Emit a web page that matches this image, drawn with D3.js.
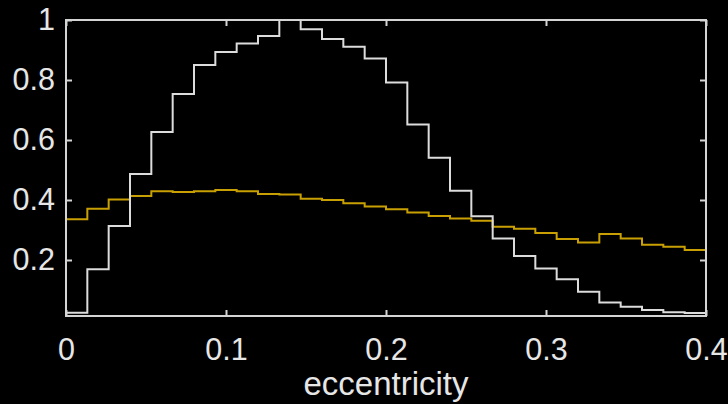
<!DOCTYPE html>
<html>
<head>
<meta charset="utf-8">
<script src="https://cdn.jsdelivr.net/npm/d3@7"></script>
<style>
  html, body { margin: 0; padding: 0; background: #000; }
  svg { display: block; }
</style>
</head>
<body>
<svg id="chart" width="728" height="404"></svg>
<script>
// Bin edges (eccentricity), 30 bins from 0 to 0.4
const binEdges = [0, 0.01333, 0.02667, 0.04, 0.05333, 0.06667, 0.08, 0.09333, 0.10667, 0.12,
  0.13333, 0.14667, 0.16, 0.17333, 0.18667, 0.2, 0.21333, 0.22667, 0.24, 0.25333,
  0.26667, 0.28, 0.29333, 0.30667, 0.32, 0.33333, 0.34667, 0.36, 0.37333, 0.38667, 0.4];

// White histogram (normalised)
const whiteValues = [0.024, 0.169, 0.313, 0.487, 0.627, 0.753, 0.850, 0.893, 0.922, 0.947,
  1.000, 0.969, 0.937, 0.911, 0.872, 0.792, 0.652, 0.541, 0.431, 0.346,
  0.272, 0.213, 0.172, 0.136, 0.094, 0.058, 0.044, 0.033, 0.026, 0.023];
const whiteEnd = 0.023;

// Yellow histogram (normalised)
const yellowValues = [0.336, 0.371, 0.402, 0.413, 0.429, 0.427, 0.429, 0.433, 0.429, 0.420,
  0.418, 0.404, 0.400, 0.389, 0.378, 0.369, 0.358, 0.347, 0.338, 0.331,
  0.311, 0.304, 0.290, 0.270, 0.258, 0.287, 0.272, 0.251, 0.244, 0.233];
const yellowEnd = 0.215;

const xTicks = [0, 0.1, 0.2, 0.3, 0.4];
const xTickLabels = ["0", "0.1", "0.2", "0.3", "0.4"];
const yTicks = [0.2, 0.4, 0.6, 0.8, 1];
const yTickLabels = ["0.2", "0.4", "0.6", "0.8", "1"];
const xLabel = "eccentricity";
const xDomain = [0, 0.4];
const yDomain = [0.0133, 1];

const svg = d3.select("#chart");
const mLeft = 66, mRight = 706, mTop = 20, mBottom = 316;
const x = d3.scaleLinear().domain(xDomain).range([mLeft, mRight]);
const y = d3.scaleLinear().domain(yDomain).range([mBottom, mTop]);

const axisColor = "#d4d4d4";
const textColor = "#e6e6e6";
const font = "'Liberation Sans', Arial, Helvetica, sans-serif";

svg.append("rect").attr("width", 728).attr("height", 404).attr("fill", "#000");

function series(vals, endVal) {
  const pts = vals.map((v, i) => [binEdges[i], v]);
  pts.push([binEdges[binEdges.length - 1], endVal]);
  return pts;
}
const stair = d3.line().x(d => x(d[0])).y(d => y(d[1])).curve(d3.curveStepAfter);

// Axes (D3 axes with inward ticks on all four sides)
const tickLen = 6;
const bottomAxis = d3.axisBottom(x).tickValues(xTicks).tickFormat((d, i) => xTickLabels[i])
  .tickSizeInner(-tickLen).tickSizeOuter(0).tickPadding(22);
const topAxis = d3.axisTop(x).tickValues(xTicks).tickFormat("").tickSizeInner(-tickLen).tickSizeOuter(0);
const leftAxis = d3.axisLeft(y).tickValues(yTicks).tickFormat((d, i) => yTickLabels[i])
  .tickSizeInner(-tickLen).tickSizeOuter(0).tickPadding(11);
const rightAxis = d3.axisRight(y).tickValues(yTicks).tickFormat("").tickSizeInner(-tickLen).tickSizeOuter(0);

function styleAxis(g) {
  g.select(".domain").remove();
  g.selectAll(".tick line").attr("stroke", axisColor).attr("stroke-width", 2);
  g.selectAll(".tick text").attr("fill", textColor).attr("font-family", font).attr("font-size", 30.5);
}

svg.append("g").attr("transform", `translate(0,${mBottom})`).call(bottomAxis).call(styleAxis);
svg.append("g").attr("transform", `translate(0,${mTop})`).call(topAxis).call(styleAxis);
svg.append("g").attr("transform", `translate(${mLeft},0)`).call(leftAxis).call(styleAxis);
svg.append("g").attr("transform", `translate(${mRight},0)`).call(rightAxis).call(styleAxis);

// Data lines
svg.append("path").datum(series(yellowValues, yellowEnd))
  .attr("d", stair).attr("fill", "none").attr("stroke", "#c9a004").attr("stroke-width", 2);
svg.append("path").datum(series(whiteValues, whiteEnd))
  .attr("d", stair).attr("fill", "none").attr("stroke", "#dcdcdc").attr("stroke-width", 2);

// Box
svg.append("rect").attr("x", mLeft).attr("y", mTop).attr("width", mRight - mLeft).attr("height", mBottom - mTop)
  .attr("fill", "none").attr("stroke", axisColor).attr("stroke-width", 2);

// X label
svg.append("text").attr("x", (mLeft + mRight) / 2).attr("y", 395)
  .attr("text-anchor", "middle").attr("fill", textColor)
  .attr("font-family", font).attr("font-size", 33).text(xLabel);
</script>
</body>
</html>
